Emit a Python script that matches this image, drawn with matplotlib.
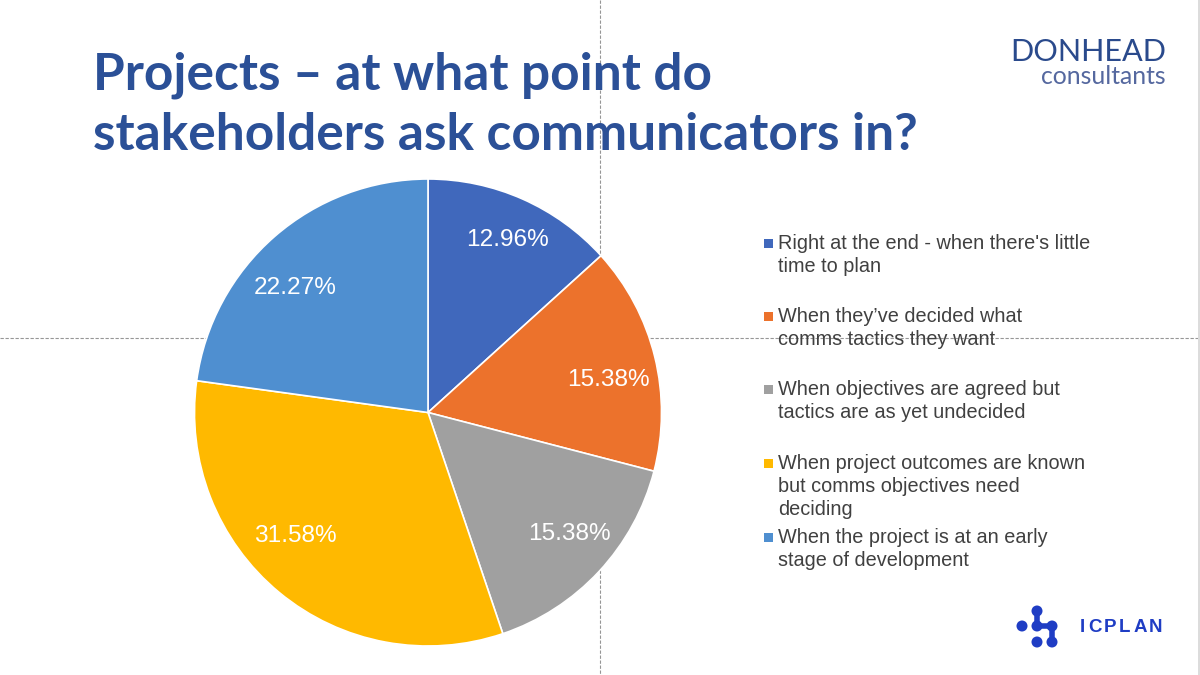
import matplotlib
matplotlib.use("Agg")
import matplotlib.pyplot as plt
from matplotlib.patches import Circle

shares = [12.96, 15.38, 15.38, 31.58, 22.27]
colors = ["#4068BC", "#EC722C", "#A0A0A0", "#FFB900", "#4F8FD0"]
legend_labels = [
    "Right at the end - when there's little\ntime to plan",
    "When they\u2019ve decided what\ncomms tactics they want",
    "When objectives are agreed but\ntactics are as yet undecided",
    "When project outcomes are known\nbut comms objectives need\ndeciding",
    "When the project is at an early\nstage of development",
]
title_lines = ["Projects \u2013 at what point do", "stakeholders ask communicators in?"]

# layout, in pixels
legend_y = [243, 316, 389, 463, 537]
label_nudge = [(4, -2), (-1, 12), (5, -6), (-14, -20), (-10, 16)]

W, H = 1200, 675
fig = plt.figure(figsize=(W / 100, H / 100), dpi=100, facecolor="white")

# pixel-coordinate layer for text, guides and logos
bg = fig.add_axes([0, 0, 1, 1])
bg.set_xlim(0, W)
bg.set_ylim(H, 0)
bg.axis("off")

# slide guides and the window edge
guide = {"color": "#969696", "lw": 0.8, "ls": (0, (3, 1.5)), "zorder": 1}
bg.plot([600, 600], [0, H], **guide)
bg.plot([0, W], [338, 338], **guide)
bg.add_patch(plt.Rectangle((1198, 0), 2, H, color="#DCDCDC", lw=0, zorder=2))

# title
for line, y in zip(title_lines, [75, 135]):
    bg.text(93, y, line, fontfamily="Lato", fontweight="bold", fontsize=37.0,
            color="#2B5097", va="center", ha="left", zorder=3)

# pie
cx, cy, r = 428, 412.5, 233.5
pie_ax = fig.add_axes([(cx - r) / W, 1 - (cy + r) / H, 2 * r / W, 2 * r / H])
pie_labels = [f"{v:.2f}%" for v in shares]
wedges, texts = pie_ax.pie(
    shares, colors=colors, startangle=90, counterclock=False, radius=1,
    labels=pie_labels, labeldistance=0.8,
    wedgeprops={"edgecolor": "white", "linewidth": 1.2},
    textprops={"color": "white", "fontsize": 17.6, "fontfamily": "Liberation Sans"},
)
for t, (dx, dy) in zip(texts, label_nudge):
    x, y = t.get_position()
    t.set_position((x + dx / r, y - dy / r))
    t.set_ha("center")
    t.set_va("center")
pie_ax.set_xlim(-1, 1)
pie_ax.set_ylim(-1, 1)

# legend
for lab, y, c in zip(legend_labels, legend_y, colors):
    bg.add_patch(plt.Rectangle((764, y - 4.5), 9, 9, color=c, lw=0, zorder=3))
    bg.text(778, y - 9, lab, fontfamily="Liberation Sans", fontsize=14.3, color="#404040",
            va="top", ha="left", linespacing=1.27, zorder=3)

# Donhead logo
bg.text(1166, 52, "DONHEAD", fontfamily="Lato", fontsize=22.1, color="#2A4A8C",
        ha="right", va="center")
bg.text(1166, 76, "consultants", fontfamily="Lato", fontsize=17.8,
        color="#55689F", ha="right", va="center")

# ICPLAN logo
logo_blue = "#1F3DC4"
dots = [(1022, 626), (1037, 611), (1037, 626), (1052, 626), (1037, 642), (1052, 642)]
for x, y in dots:
    bg.add_patch(Circle((x, y), 5.5, color=logo_blue, lw=0))
bg.plot([1037, 1037, 1052, 1052], [611, 626, 626, 642], color=logo_blue, lw=4)

renderer = fig.canvas.get_renderer()
x = 1080
for ch in "ICPLAN":
    t = bg.text(x, 628, ch, fontfamily="Liberation Sans", fontweight="bold", fontsize=13.5,
                color=logo_blue, ha="left", va="center")
    x += t.get_window_extent(renderer).width + 2.6

fig.savefig("out.png", dpi=100)
